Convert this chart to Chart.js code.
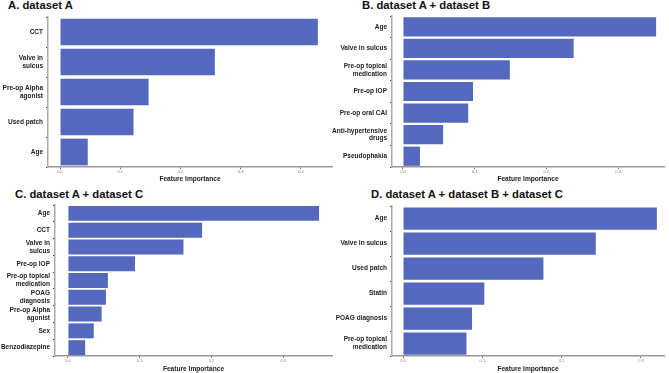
<!DOCTYPE html>
<html>
<head>
<meta charset="utf-8">
<script src="https://cdn.jsdelivr.net/npm/chart.js@4.4.1/dist/chart.umd.min.js"></script>
<style>
  body { margin: 0; background: #fff; }
  #wrap { position: relative; width: 669px; height: 373px; overflow: hidden; }
  .panel { position: absolute; }
  .ttl { position: absolute; font-family: 'Liberation Sans', Arial, sans-serif; font-weight: bold;
         font-size: 11.3px; line-height: 11.5px; color: #111; white-space: nowrap; }
</style>
</head>
<body>
<div id="wrap">
  <div class="ttl" style="left:8px; top:-0.5px;">A. dataset A</div>
  <div class="ttl" style="left:362px; top:-0.5px;">B. dataset A + dataset B</div>
  <div class="ttl" style="left:15px; top:188.5px;">C. dataset A + dataset C</div>
  <div class="ttl" style="left:371px; top:188.5px;">D. dataset A + dataset B + dataset C</div>
  <div class="panel" style="left:0; top:0; width:335px; height:185px;"><canvas id="chartA"></canvas></div>
  <div class="panel" style="left:330px; top:0; width:339px; height:185px;"><canvas id="chartB"></canvas></div>
  <div class="panel" style="left:0; top:185px; width:335px; height:188px;"><canvas id="chartC"></canvas></div>
  <div class="panel" style="left:330px; top:185px; width:339px; height:188px;"><canvas id="chartD"></canvas></div>
</div>
<script>
// data per panel
const labelsA = ['CCT', ['Valve in', 'sulcus'], ['Pre-op Alpha', 'agonist'], 'Used patch', 'Age'];
const valuesA = [0.428, 0.257, 0.147, 0.122, 0.046];
const ticksA = [0, 0.1, 0.2, 0.3, 0.4];

const labelsB = ['Age', 'Valve in sulcus', ['Pre-op topical', 'medication'], 'Pre-op IOP',
  'Pre-op oral CAI', ['Anti-hypertensive', 'drugs'], 'Pseudophakia'];
const valuesB = [0.353, 0.238, 0.149, 0.0976, 0.091, 0.056, 0.0237];
const ticksB = [0, 0.1, 0.2, 0.3];

const labelsC = ['Age', 'CCT', ['Valve in', 'sulcus'], 'Pre-op IOP', ['Pre-op topical', 'medication'],
  ['POAG', 'diagnosis'], ['Pre-op Alpha', 'agonist'], 'Sex', 'Benzodiazepine'];
const valuesC = [0.35, 0.187, 0.161, 0.0935, 0.0557, 0.053, 0.047, 0.036, 0.024];
const ticksC = [0, 0.1, 0.2, 0.3];

const labelsD = ['Age', 'Valve in sulcus', 'Used patch', 'Statin', 'POAG diagnosis',
  ['Pre-op topical', 'medication']];
const valuesD = [0.32, 0.243, 0.177, 0.1025, 0.087, 0.080];
const ticksD = [0, 0.1, 0.2, 0.3];

const FONT = "'Liberation Sans', Arial, sans-serif";
const BAR = '#5468bd';

function makePanel(id, labels, values, tickVals, o) {
  const ctx = document.getElementById(id).getContext('2d');
  return new Chart(ctx, {
    type: 'bar',
    data: {
      labels: labels,
      datasets: [{
        data: values,
        backgroundColor: BAR,
        borderWidth: 0,
        barPercentage: 0.89,
        categoryPercentage: 1
      }]
    },
    options: {
      indexAxis: 'y',
      responsive: true,
      maintainAspectRatio: false,
      animation: false,
      layout: { padding: { top: o.padTop, right: o.padRight, left: 0, bottom: 0 } },
      plugins: { legend: { display: false }, tooltip: { enabled: false } },
      scales: {
        x: {
          type: 'linear',
          min: o.xmin,
          max: o.xmax,
          afterBuildTicks: (s) => { s.ticks = tickVals.map(v => ({ value: v })); },
          afterFit: (s) => { s.height = o.xHeight; },
          grid: { display: true, drawOnChartArea: false, drawTicks: true, tickLength: 2, color: '#666' },
          border: { display: true, color: '#999', width: 1.5 },
          ticks: {
            font: { family: FONT, size: 4 },
            color: '#888',
            padding: 0,
            maxRotation: 0,
            callback: (v) => Number(v).toFixed(1)
          },
          title: {
            display: true,
            text: 'Feature Importance',
            font: { family: FONT, size: 6.6, weight: 'bold' },
            color: '#222',
            padding: { top: 0, bottom: o.titlePad }
          }
        },
        y: {
          afterFit: (s) => { s.width = o.yWidth; },
          grid: { display: true, drawOnChartArea: false, drawTicks: true, tickLength: 2, color: '#333' },
          border: { display: true, color: '#aaa', width: 1.5 },
          ticks: {
            font: { family: FONT, size: 6.5, weight: 'bold', lineHeight: 1.2 },
            color: '#222',
            padding: 3,
            autoSkip: false
          }
        }
      }
    }
  });
}

makePanel('chartA', labelsA, valuesA, ticksA,
  { xmin: -0.02, xmax: 0.4515, yWidth: 48, xHeight: 18, padTop: 17, padRight: 3, titlePad: 1.5 });
makePanel('chartB', labelsB, valuesB, ticksB,
  { xmin: -0.0153, xmax: 0.364, yWidth: 62, xHeight: 18, padTop: 16, padRight: 5, titlePad: 1.5 });
makePanel('chartC', labelsC, valuesC, ticksC,
  { xmin: -0.018, xmax: 0.368, yWidth: 55, xHeight: 17, padTop: 20, padRight: 3, titlePad: 0 });
makePanel('chartD', labelsD, valuesD, ticksD,
  { xmin: -0.0139, xmax: 0.329, yWidth: 62, xHeight: 17, padTop: 21, padRight: 5, titlePad: 0 });
</script>
</body>
</html>
